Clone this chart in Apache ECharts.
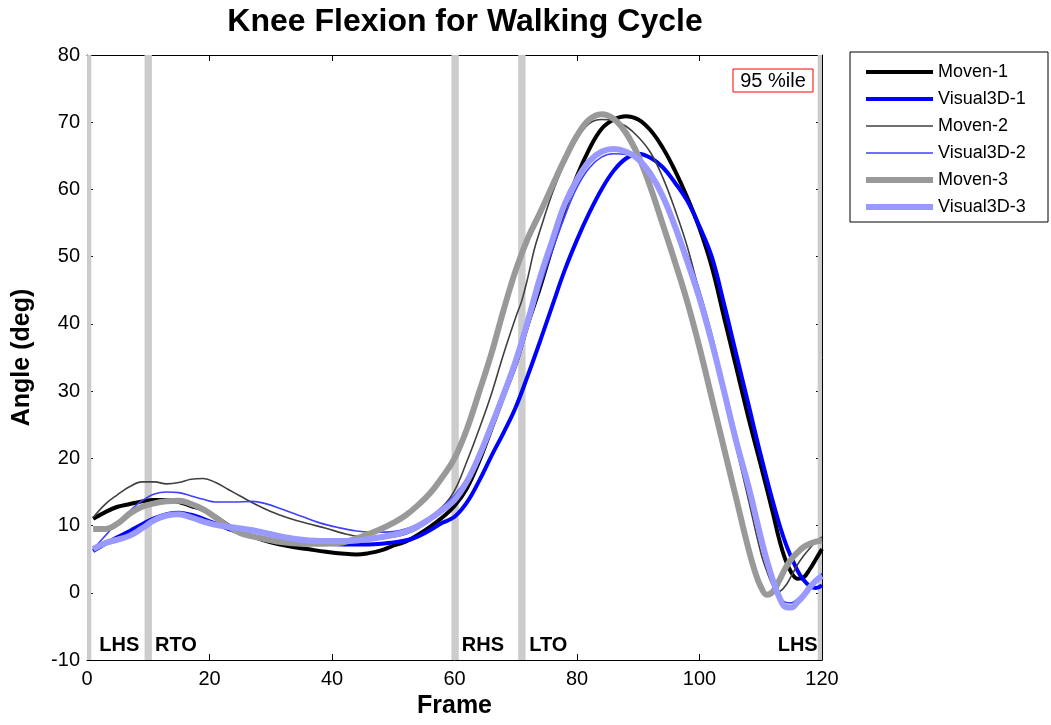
<!DOCTYPE html>
<html>
<head>
<meta charset="utf-8">
<script src="https://cdn.jsdelivr.net/npm/echarts@6/dist/echarts.min.js"></script>
<style>html,body{margin:0;padding:0;background:#fff;}#chart{width:1051px;height:725px;}</style>
</head>
<body>
<div id="chart"></div>
<script>
const titleText = 'Knee Flexion for Walking Cycle';
const xTitle = 'Frame';
const yTitle = 'Angle (deg)';
const seriesNames = ['Moven-1', 'Visual3D-1', 'Moven-2', 'Visual3D-2', 'Moven-3', 'Visual3D-3'];

const moven1 = [[1,11.0],[3,12.0],[5,12.8],[7,13.2],[9,13.6],[11,13.8],[13,13.8],[15,13.5],[17,12.9],[19,12.3],[21,11.3],[23,10.1],[25,9.2],[27,8.4],[30,7.5],[33,6.9],[36,6.5],[39,6.1],[42,5.8],[44,5.7],[46,5.9],[48,6.3],[50,7.0],[52,7.6],[54,8.6],[56,9.8],[58,11.2],[60,12.9],[62,15.5],[64,19.5],[66,24.3],[68,29.2],[70,34.0],[72,40.0],[74,45.5],[76,51.5],[78,57.0],[80,62.0],[82,66.0],[84,69.0],[86,70.4],[88,70.9],[90,70.4],[92,68.8],[94,66.2],[96,62.8],[98,58.8],[100,54.2],[102,48.5],[104,41.0],[106,33.5],[108,26.0],[110,19.0],[112,11.8],[113,8.0],[114,5.0],[115,3.0],[116,2.1],[117,2.3],[118,3.5],[119,5.0],[120,6.5]];
const visual1 = [[1,6.2],[3,7.3],[5,8.3],[7,9.2],[9,10.2],[11,11.1],[13,11.7],[15,11.9],[17,11.6],[19,11.0],[21,10.3],[24,9.2],[27,8.4],[30,7.9],[34,7.5],[38,7.3],[42,7.2],[46,7.2],[50,7.5],[53,8.0],[56,9.3],[58,10.4],[60,11.3],[62,13.4],[64,16.6],[66,20.3],[68,23.8],[70,27.6],[72,32.4],[74,37.5],[76,42.8],[78,48.0],[80,52.5],[82,56.5],[84,60.0],[86,62.8],[88,64.6],[90,65.3],[92,64.7],[94,63.3],[96,61.0],[98,58.3],[100,54.5],[102,50.0],[104,43.0],[106,35.5],[108,28.0],[110,20.5],[112,13.5],[114,7.5],[116,3.3],[117,1.9],[118,1.0],[119,0.7],[120,1.1]];
const moven2 = [[1,11.2],[3,13.2],[5,14.6],[7,15.8],[9,16.5],[11,16.5],[13,16.2],[15,16.4],[17,16.9],[19,17.0],[21,16.4],[23,15.4],[25,14.4],[27,13.4],[30,12.1],[33,11.1],[36,10.3],[39,9.6],[42,8.8],[45,8.3],[48,8.2],[50,8.3],[52,8.7],[54,9.5],[56,10.8],[58,12.7],[60,15.2],[62,19.5],[64,24.3],[66,29.5],[68,35.5],[70,41.0],[71,43.5],[72,47.0],[73,51.0],[74,54.0],[76,59.5],[78,64.0],[80,67.5],[82,69.8],[84,70.4],[86,70.2],[88,69.4],[90,67.8],[92,65.5],[94,61.8],[96,57.0],[98,51.5],[100,44.5],[102,37.0],[104,29.0],[106,21.5],[108,13.8],[110,6.0],[111,3.2],[112,1.0],[113,0.2],[114,1.0],[115,2.5],[116,4.2],[117,5.5],[118,6.6],[119,7.6],[120,8.3]];
const visual2 = [[1,6.5],[3,8.5],[5,10.5],[7,12.2],[9,13.7],[11,14.7],[13,15.0],[15,14.9],[17,14.4],[19,13.9],[21,13.5],[24,13.5],[27,13.6],[29,13.3],[32,12.4],[35,11.4],[38,10.4],[41,9.7],[44,9.2],[47,9.0],[50,9.1],[52,9.5],[54,10.2],[56,11.3],[58,12.8],[60,14.5],[62,17.0],[64,20.4],[66,24.8],[68,29.3],[70,34.0],[72,39.5],[74,45.5],[76,51.0],[78,56.0],[80,60.3],[82,63.2],[84,64.8],[86,65.3],[88,65.2],[90,64.4],[92,62.4],[94,59.0],[96,55.0],[98,50.3],[100,45.0],[102,38.5],[104,31.0],[106,23.5],[108,16.0],[110,8.5],[111,5.0],[112,2.0],[113,-0.4],[114,-1.4],[115,-1.5],[116,-0.9],[117,-0.1],[118,0.7],[119,1.7],[120,2.9]];
const moven3 = [[1,9.5],[3,9.5],[5,10.3],[7,11.8],[9,12.8],[11,13.3],[13,13.6],[15,13.7],[17,13.2],[19,12.4],[21,11.2],[23,9.9],[25,8.9],[27,8.4],[29,8.0],[32,7.5],[35,7.3],[38,7.3],[41,7.4],[43,7.8],[45,8.4],[48,9.5],[50,10.4],[52,11.5],[54,13.0],[56,14.8],[58,17.2],[60,20.0],[62,24.3],[64,29.8],[66,35.5],[68,42.0],[70,48.0],[72,52.8],[74,56.6],[76,60.6],[78,64.5],[80,68.0],[82,70.4],[84,71.2],[86,70.5],[88,68.4],[90,65.0],[92,60.3],[94,54.8],[96,49.2],[98,43.3],[100,36.5],[102,29.0],[104,21.5],[106,14.0],[108,6.5],[109,3.3],[110,0.9],[111,-0.3],[112,0.2],[113,1.8],[114,3.6],[115,5.0],[116,6.0],[117,6.8],[118,7.3],[119,7.6],[120,7.8]];
const visual3 = [[1,6.5],[3,7.4],[5,7.9],[7,8.5],[9,9.6],[11,10.8],[13,11.5],[15,11.7],[17,11.2],[19,10.6],[21,10.1],[24,9.7],[27,9.3],[30,8.7],[34,8.0],[38,7.7],[42,7.7],[46,8.0],[50,8.6],[52,9.1],[54,9.9],[56,11.0],[58,12.3],[60,13.8],[62,16.5],[64,20.3],[66,24.8],[68,29.5],[70,34.5],[72,40.5],[74,47.0],[76,52.5],[78,57.8],[80,61.5],[82,64.2],[84,65.6],[86,66.0],[88,65.6],[90,64.5],[92,62.3],[94,59.0],[96,54.5],[98,49.3],[100,43.8],[102,37.3],[104,30.0],[106,22.5],[108,15.8],[110,8.3],[111,4.8],[112,1.8],[113,-0.6],[114,-2.1],[115,-2.2],[116,-1.4],[117,-0.4],[118,0.8],[119,1.8],[120,2.5]];

// gait events: band ranges (frames) and labels
const eventBands = [[0, 0.7], [9.4, 10.6], [59.5, 60.7], [70.4, 71.6], [119.3, 120]];
const eventLabels = [[2, -7.9, 'LHS', 'left'], [11.1, -7.9, 'RTO', 'left'], [61.2, -7.9, 'RHS', 'left'], [72.2, -7.9, 'LTO', 'left'], [119.3, -7.9, 'LHS', 'right']];

const FONT = 'Liberation Sans, Arial, Helvetica, sans-serif';
const chart = echarts.init(document.getElementById('chart'), null, {renderer: 'canvas'});

const styles = [
  {color: '#000000', width: 4},
  {color: '#0000ff', width: 4},
  {color: '#404040', width: 1.6},
  {color: '#4040ff', width: 1.6},
  {color: '#999999', width: 6},
  {color: '#9999ff', width: 6}
];
const datasets = [moven1, visual1, moven2, visual2, moven3, visual3];

const lineSeries = seriesNames.map((n, i) => ({
  name: n,
  type: 'line',
  data: datasets[i],
  symbol: 'none',
  smooth: 0.4,
  z: 3,
  lineStyle: {color: styles[i].color, width: styles[i].width},
  itemStyle: {color: styles[i].color},
  emphasis: {disabled: true},
  animation: false
}));

const axisCommon = {
  type: 'value',
  splitLine: {show: false},
  axisLine: {show: true, onZero: false, lineStyle: {color: '#000', width: 1}},
  axisTick: {show: true, inside: true, length: 6, lineStyle: {color: '#000'}}
};

const option = {
  backgroundColor: '#ffffff',
  animation: false,
  grid: {left: 87, top: 55, right: 229, bottom: 65, containLabel: false},
  xAxis: [
    Object.assign({}, axisCommon, {
      position: 'bottom', min: 0, max: 120, interval: 20,
      axisLabel: {color: '#000', fontSize: 20, fontFamily: FONT, margin: 9},
      name: xTitle, nameLocation: 'middle', nameGap: 33,
      nameTextStyle: {color: '#000', fontSize: 25, fontWeight: 'bold', fontFamily: FONT}
    }),
    Object.assign({}, axisCommon, {
      position: 'top', min: 0, max: 120, interval: 20, axisLabel: {show: false}
    })
  ],
  yAxis: [
    Object.assign({}, axisCommon, {
      position: 'left', min: -10, max: 80, interval: 10,
      axisLabel: {color: '#000', fontSize: 20, fontFamily: FONT, margin: 7},
      name: yTitle, nameLocation: 'middle', nameGap: 52, nameRotate: 90,
      nameTextStyle: {color: '#000', fontSize: 25, fontWeight: 'bold', fontFamily: FONT}
    }),
    Object.assign({}, axisCommon, {
      position: 'right', min: -10, max: 80, interval: 10, axisLabel: {show: false}
    })
  ],
  legend: {
    data: seriesNames.map((n, i) => ({
      name: n,
      lineStyle: {color: styles[i].color, width: styles[i].width},
      itemStyle: {opacity: 0, borderWidth: 0}
    })),
    orient: 'vertical',
    left: 863, top: 62,
    padding: 0,
    itemWidth: 67, itemHeight: 14, itemGap: 7,
    itemStyle: {opacity: 0, borderWidth: 0},
    textStyle: {color: '#000', fontSize: 18, fontFamily: FONT, lineHeight: 20},
    selectedMode: false
  },
  graphic: [
    {type: 'text', x: 465, y: 22, z: 10,
     style: {text: titleText, x: 0, y: 0, align: 'center', verticalAlign: 'middle', fill: '#000', font: 'bold 32px ' + FONT}},
    {type: 'rect', x: 850, y: 52, shape: {x: 0, y: 0, width: 198, height: 170}, z: -1,
     style: {fill: '#fff', stroke: '#000', lineWidth: 1}},
    {type: 'rect', x: 733, y: 69, shape: {x: 0, y: 0, width: 80, height: 23}, z: 5,
     style: {fill: '#fff', stroke: '#ff0000', lineWidth: 1}},
    {type: 'text', x: 773, y: 81, z: 6,
     style: {text: '95 %ile', align: 'center', verticalAlign: 'middle', fill: '#000', font: '20px ' + FONT}}
  ],
  series: [
    {
      name: 'events',
      type: 'scatter',
      symbolSize: 0,
      silent: true,
      z: 1,
      itemStyle: {opacity: 1},
      data: eventLabels.map(e => ({value: [e[0], e[1]], label: {align: e[3]}, name: e[2]})),
      label: {show: true, position: [0, 0], formatter: p => p.name, color: '#000', opacity: 1, fontSize: 20, fontWeight: 'bold', fontFamily: FONT, verticalAlign: 'middle'},
      markArea: {
        silent: true,
        itemStyle: {color: '#cccccc', opacity: 1},
        data: eventBands.map(b => [{xAxis: b[0], yAxis: -10}, {xAxis: b[1], yAxis: 80}])
      }
    }
  ].concat(lineSeries)
};
chart.setOption(option);
</script>
</body>
</html>
